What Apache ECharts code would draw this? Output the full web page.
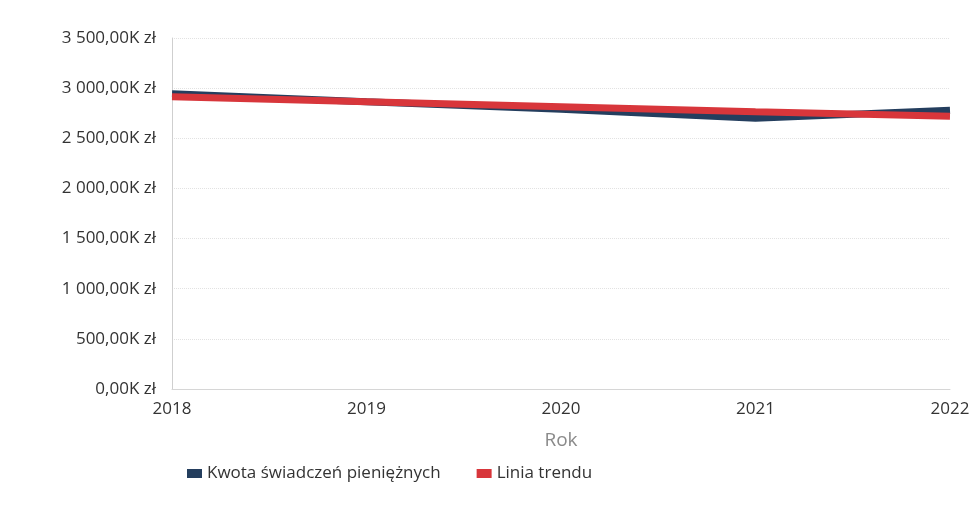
<!DOCTYPE html>
<html>
<head>
<meta charset="utf-8">
<title>Kwota świadczeń pieniężnych</title>
<script src="https://cdn.jsdelivr.net/npm/echarts@6/dist/echarts.min.js"></script>
<style>
  html, body { margin: 0; padding: 0; background: #fff; }
  #main { width: 980px; height: 517px; }
</style>
</head>
<body>
<div id="main"></div>
<script>
// dane (w tys. zł)
const years = ["2018", "2019", "2020", "2021", "2022"];
const kwota = [2945, 2865, 2790, 2700, 2780];
const trend = [2915, 2865, 2815, 2765, 2720];
const yTicks = [0, 500, 1000, 1500, 2000, 2500, 3000, 3500];

function fmtK(v) {
  // 3500 -> "3 500,00K zł"
  const s = String(Math.round(v)).replace(/\B(?=(\d{3})+(?!\d))/g, " ");
  return s + ",00K zł";
}

const myChart = echarts.init(document.getElementById("main"));
const option = {
  animation: false,
  textStyle: { fontFamily: "Open Sans, Noto Sans, sans-serif" },
  grid: { left: 172, right: 30, top: 38, bottom: 128 },
  legend: {
    data: ["Kwota świadczeń pieniężnych", "Linia trendu"],
    left: 182,
    bottom: 30,
    icon: "rect",
    itemWidth: 15,
    itemHeight: 9,
    itemGap: 36,
    textStyle: { color: "#333", fontSize: 17 }
  },
  xAxis: {
    type: "category",
    boundaryGap: false,
    data: years,
    name: "Rok",
    nameLocation: "middle",
    nameGap: 42,
    nameTextStyle: { color: "#8a8a8a", fontSize: 19 },
    axisLine: { show: true, lineStyle: { color: "#d6d6d6" } },
    axisTick: { show: false },
    axisLabel: { color: "#333", fontSize: 17, margin: 12 }
  },
  yAxis: {
    type: "value",
    min: yTicks[0],
    max: yTicks[yTicks.length - 1],
    interval: 500,
    axisLine: { show: true, lineStyle: { color: "#cfcfcf" } },
    axisTick: { show: false },
    axisLabel: { color: "#333", fontSize: 17, margin: 16, formatter: fmtK },
    splitLine: { lineStyle: { color: "#e2e2e2", type: "dotted" } }
  },
  series: [
    {
      name: "Kwota świadczeń pieniężnych",
      type: "line",
      data: kwota,
      showSymbol: false,
      itemStyle: { color: "#243e5e" },
      lineStyle: { color: "#243e5e", width: 7 }
    },
    {
      name: "Linia trendu",
      type: "line",
      data: trend,
      showSymbol: false,
      itemStyle: { color: "#d8363b" },
      lineStyle: { color: "#d8363b", width: 7 }
    }
  ]
};
myChart.setOption(option);
</script>
</body>
</html>
